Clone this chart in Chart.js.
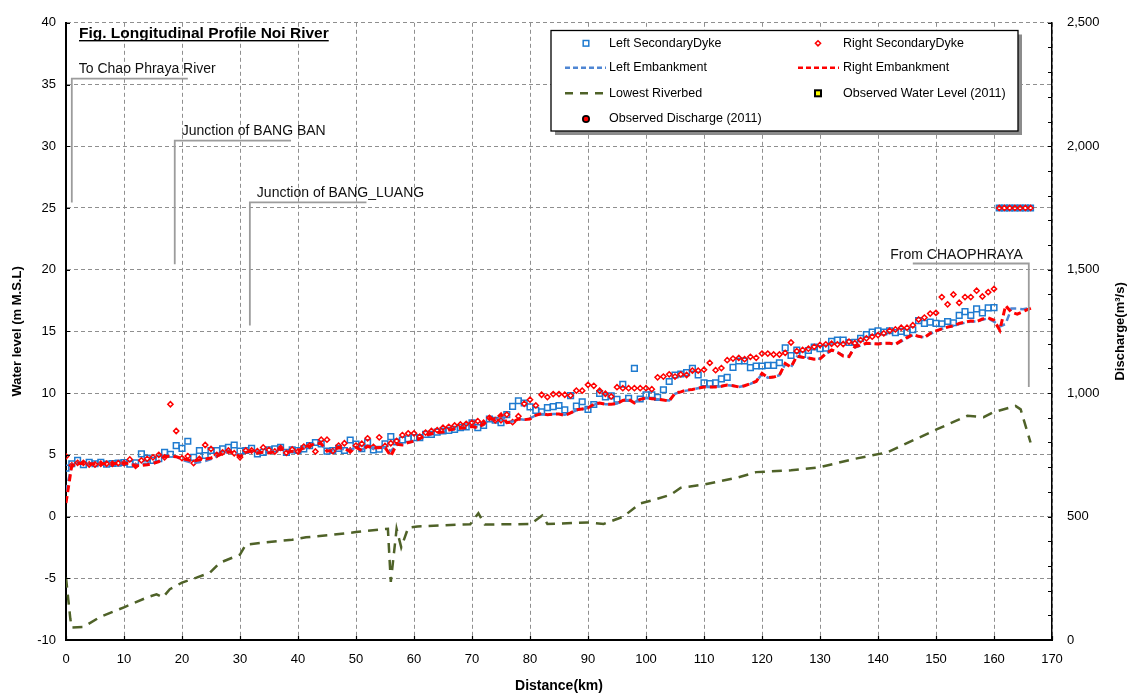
<!DOCTYPE html>
<html>
<head>
<meta charset="utf-8">
<script src="https://cdn.jsdelivr.net/npm/chart.js@4.4.1/dist/chart.umd.min.js"></script>
<style>
html,body{margin:0;padding:0;background:#fff;}
#wrap{position:relative;width:1134px;height:695px;}
</style>
</head>
<body>
<div id="wrap"><canvas id="c" width="1134" height="695"></canvas></div>
<script>
// ---------- DATA ----------
const kmDyke = [
0,1,2,3,4,5,6,7,8,9,10,11,12,13,14,15,16,17,18,19,20,21,22,23,24,25,26,27,28,29,
30,31,32,33,34,35,36,37,38,39,40,41,42,43,44,45,46,47,48,49,50,51,52,53,54,55,56,57,58,59,
60,61,62,63,64,65,66,67,68,69,70,71,72,73,74,75,76,77,78,79,80,81,82,83,84,85,86,87,88,89,
90,91,92,93,94,95,96,97,98,99,100,101,102,103,104,105,106,107,108,109,110,111,112,113,114,115,116,117,118,119,
120,121,122,123,124,125,126,127,128,129,130,131,132,133,134,135,136,137,138,139,140,141,142,143,144,145,146,147,148,149,
150,151,152,153,154,155,156,157,158,159,160,
160.9,161.8,162.7,163.6,164.5,165.4,166.3];

const leftDyke = [
3.93,4.28,4.55,4.2,4.4,4.28,4.4,4.25,4.3,4.33,4.38,4.25,4.35,5.08,4.73,4.55,4.68,5.2,5.05,5.75,
5.53,6.1,4.8,5.35,4.95,5.35,5.35,5.48,5.6,5.8,5.3,5.35,5.53,5.08,5.2,5.4,5.48,5.6,5.2,5.4,
5.35,5.48,5.75,6.0,5.88,5.3,5.35,5.53,5.35,6.2,5.88,5.5,6.0,5.4,5.45,5.9,6.47,6.04,6.2,6.3,
6.4,6.4,6.66,6.66,6.84,6.93,6.98,7.06,7.2,7.27,7.6,7.2,7.38,7.9,7.8,7.6,8.26,8.93,9.38,9.2,
8.88,8.6,8.48,8.82,8.9,9.0,8.64,9.8,8.95,9.3,8.68,9.08,9.97,9.7,9.78,9.5,10.72,9.58,12.0,9.52,
9.87,9.87,9.65,10.27,10.94,11.47,11.55,11.66,12.0,11.47,10.83,10.78,10.83,11.16,11.28,12.08,12.6,12.6,12.06,12.2,
12.2,12.25,12.25,12.46,13.66,13.05,13.48,13.13,13.45,13.74,13.6,13.65,14.2,14.3,14.3,14.1,14.12,14.44,14.75,14.95,
15.05,14.95,15.05,14.9,15.0,14.9,15.13,15.87,15.65,15.75,15.65,15.62,15.8,15.7,16.3,16.6,16.3,16.82,16.5,16.9,
16.92,
25,25,25,25,25,25,25];

const rightDyke = [
4.87,4.15,4.35,4.35,4.22,4.22,4.28,4.28,4.28,4.33,4.33,4.63,4.1,4.55,4.68,4.8,5.0,4.8,9.1,6.93,
4.73,4.9,4.33,4.68,5.8,5.48,5.0,5.2,5.35,5.13,4.8,5.35,5.35,5.3,5.6,5.4,5.27,5.56,5.16,5.43,
5.27,5.67,5.75,5.27,6.23,6.23,5.3,5.75,5.94,5.35,5.75,5.9,6.34,5.65,6.42,5.72,5.94,6.12,6.6,6.74,
6.74,6.47,6.8,6.93,7.0,7.2,7.27,7.38,7.46,7.51,7.6,7.73,7.6,8.0,7.8,7.8,8.26,7.65,8.13,9.14,
9.47,9.0,9.87,9.68,9.92,9.92,9.87,9.8,10.2,10.2,10.67,10.59,10.19,9.95,9.73,10.48,10.4,10.4,10.4,10.4,
10.4,10.32,11.28,11.34,11.52,11.34,11.52,11.47,11.82,11.82,11.9,12.45,11.86,12.03,12.67,12.8,12.85,12.75,12.94,12.86,
13.2,13.2,13.13,13.13,13.26,14.1,13.4,13.5,13.6,13.75,13.9,13.95,14.0,13.95,13.98,14.17,14.04,14.3,14.44,14.57,
14.7,14.84,15.05,15.16,15.3,15.3,15.5,15.96,16.12,16.44,16.5,17.78,17.19,17.99,17.32,17.78,17.78,18.3,17.83,18.18,
18.44,
25,25,25,25,25,25,25];

const kmEmb = [
0,1,2,3,4,5,6,7,8,9,10,11,12,13,14,15,16,17,18,19,20,21,22,23,24,25,26,27,28,29,
30,31,32,33,34,35,36,37,38,39,40,41,42,43,44,45,46,47,48,49,50,51,52,53,54,55,56,57,58,59,
60,61,62,63,64,65,66,67,68,69,70,71,72,73,74,75,76,77,78,79,80,81,82,83,84,85,86,87,88,89,
90,91,92,93,94,95,96,97,98,99,100,101,102,103,104,105,106,107,108,109,110,111,112,113,114,115,116,117,118,119,
120,121,122,123,124,125,126,127,128,129,130,131,132,133,134,135,136,137,138,139,140,141,142,143,144,145,146,147,148,149,
150,151,152,153,154,155,156,157,158,159,160,161,162,163,164,165,166.4];

const leftEmb = [
2.0,4.2,4.35,4.3,4.3,4.28,4.3,4.28,4.3,4.32,4.35,4.3,4.2,4.25,4.3,4.4,4.5,4.85,4.95,4.85,
4.6,4.45,4.35,4.4,4.5,4.65,4.9,5.1,5.25,5.2,4.95,5.2,5.3,5.15,5.2,5.2,5.3,5.55,5.25,5.3,
5.3,5.55,5.7,5.95,5.85,5.35,5.35,5.55,5.45,5.4,5.6,5.4,5.7,5.5,5.55,5.6,5.3,5.8,5.85,6.0,
6.1,6.3,6.55,6.65,6.8,6.85,7.0,7.1,7.15,7.2,7.3,7.25,7.45,7.9,7.85,8.2,7.65,7.7,7.9,7.85,
7.95,8.2,8.3,8.25,8.3,8.3,8.25,8.4,8.6,8.7,8.8,9.05,9.2,9.1,9.1,9.15,9.4,9.45,9.25,9.5,
9.6,9.55,9.5,9.45,9.4,9.95,10.1,10.2,10.3,10.4,10.5,10.5,10.5,10.55,10.65,10.6,10.5,10.6,10.75,10.95,
11.55,11.25,11.3,11.45,12.35,12.1,12.95,12.9,12.85,12.75,12.8,13.15,13.45,13.3,13.05,13.0,13.7,13.85,14.0,14.0,
14.0,14.05,14.05,13.95,14.2,14.45,14.7,14.6,14.5,14.8,15.0,15.2,15.35,15.45,15.6,15.7,15.8,15.8,15.95,16.05,
15.8,15.4,15.6,16.85,16.85,16.8,16.9];

const rightEmb = [
1.1,4.15,4.3,4.3,4.28,4.28,4.3,4.28,4.3,4.3,4.33,4.3,4.1,4.15,4.2,4.3,4.45,4.87,4.9,4.85,
4.7,4.6,4.5,4.6,4.65,4.75,4.9,5.1,5.25,5.15,4.85,5.2,5.3,5.15,5.2,5.15,5.25,5.55,5.2,5.3,
5.3,5.6,5.7,5.95,5.9,5.3,5.35,5.6,5.5,5.3,5.6,5.35,5.7,5.55,5.6,5.6,4.9,5.85,5.8,6.0,
6.1,6.3,6.6,6.7,6.8,6.85,7.0,7.1,7.15,7.2,7.3,7.2,7.5,7.95,7.85,8.3,7.6,7.65,7.9,7.85,
7.9,8.2,8.35,8.25,8.3,8.3,8.2,8.4,8.65,8.72,8.8,9.1,9.2,9.1,9.1,9.15,9.4,9.5,9.2,9.5,
9.6,9.55,9.5,9.45,9.35,10.0,10.1,10.25,10.3,10.4,10.5,10.5,10.5,10.55,10.65,10.6,10.5,10.6,10.77,10.95,
11.6,11.25,11.3,11.45,12.4,12.1,13.0,12.9,12.85,12.75,12.78,13.2,13.5,13.3,13.0,12.95,13.75,13.9,14.04,14.0,
13.98,14.04,14.04,13.95,14.25,14.5,14.75,14.6,14.5,14.84,15.05,15.2,15.35,15.45,15.65,15.75,15.85,15.8,16.0,16.1,
15.9,15.1,17.1,16.55,16.4,16.6,16.9];

const bedKm = [0,0.75,1,3,5.8,10,14,15.6,16.7,17.9,20,22.5,24.8,26.5,30,31,34.5,39,41.4,46,50,54,55.5,56,57,57.8,59,60.6,
69.7,71.1,72.2,80.1,82.1,83,89.9,92.7,96.1,99,101,104.2,106,110,115.7,119,125,130,136,141.6,150.2,155.4,158.2,159.9,163.7,164.6,166.3];
const bedLevel = [-4.95,-8.3,-9.0,-8.95,-8.15,-7.35,-6.55,-6.3,-6.55,-5.88,-5.35,-4.95,-4.55,-3.75,-3.08,-2.27,-2.09,-1.87,-1.68,-1.47,-1.26,-1.05,-1.0,-5.3,-1.0,-2.5,-0.9,-0.8,
-0.62,0.27,-0.65,-0.6,0.08,-0.6,-0.48,-0.6,0.0,1.07,1.3,1.76,2.33,2.6,3.15,3.6,3.75,4.0,4.68,5.2,7.08,8.16,8.05,8.45,8.96,8.68,6.0];

const obsWaterLevel = [];   // Observed Water Level (2011) - no points in figure
const obsDischarge = [];    // Observed Discharge (2011) - no points in figure

const xTicks = [0,10,20,30,40,50,60,70,80,90,100,110,120,130,140,150,160,170];
const yTicks = [-10,-5,0,5,10,15,20,25,30,35,40];
const y1Ticks = [0,500,1000,1500,2000,2500];

const guideLabels = ['To Chao Phraya River','Junction of BANG BAN','Junction of BANG_LUANG','From CHAOPHRAYA'];
const guideKm     = [1.0, 18.75, 31.7, 166.0];
const guideTop    = [35.47, 30.45, 25.45, 20.5];
const guideBottom = [25.45, 20.45, 15.48, 10.5];
const guideEndKm  = [21.0, 38.8, 51.8, 146.0];

const legendLabels = ['Left SecondaryDyke','Right SecondaryDyke','Left Embankment','Right Embankment','Lowest Riverbed','Observed Water Level (2011)','Observed Discharge (2011)'];

// ---------- STYLE ----------
const C_BLUE_PT = '#1f7bd0';
const C_BLUE_LN = '#4f86d3';
const C_RED = '#ff0000';
const C_BED = '#4f6228';
const FONT = '"Liberation Sans", Arial, sans-serif';

const pts = (xs, ys) => xs.map((x, i) => ({x: x, y: ys[i]}));

const datasets = [
  {label: legendLabels[3], data: pts(kmEmb, rightEmb), showLine: true, borderColor: C_RED, borderWidth: 3, borderDash: [7,4], pointRadius: 0, order: 1, tension: 0},
  {label: legendLabels[2], data: pts(kmEmb, leftEmb), showLine: true, borderColor: C_BLUE_LN, borderWidth: 2.5, borderDash: [7,4], pointRadius: 0, order: 2, tension: 0},
  {label: legendLabels[4], data: pts(bedKm, bedLevel), showLine: true, borderColor: C_BED, borderWidth: 2.5, borderDash: [10,7], pointRadius: 0, order: 3, tension: 0},
  {label: legendLabels[1], data: pts(kmDyke, rightDyke), showLine: false, pointStyle: 'rectRot', pointRadius: 2.6, borderColor: C_RED, backgroundColor: 'rgba(255,255,255,0)', pointBorderWidth: 1.5, order: 4},
  {label: legendLabels[0], data: pts(kmDyke, leftDyke), showLine: false, pointStyle: 'rect', pointRadius: 4, borderColor: C_BLUE_PT, backgroundColor: 'rgba(255,255,255,0)', pointBorderWidth: 1.5, order: 5},
  {label: legendLabels[5], data: obsWaterLevel, showLine: false, pointStyle: 'rect', pointRadius: 5, borderColor: '#000', backgroundColor: '#ffff00', order: 6},
  {label: legendLabels[6], data: obsDischarge, yAxisID: 'y1', showLine: false, pointStyle: 'circle', pointRadius: 4, borderColor: '#000', backgroundColor: '#ff0000', order: 7}
];

// ---------- PLUGINS ----------
const decorPlugin = {
  id: 'decor',
  afterDatasetsDraw(chart) {
    const ctx = chart.ctx, xs = chart.scales.x, ys = chart.scales.y, y1 = chart.scales.y1;
    const a = chart.chartArea;
    ctx.save();
    ctx.strokeStyle = '#000'; ctx.lineWidth = 1.2;
    ctx.beginPath();
    xTicks.forEach(v => { const px = Math.round(xs.getPixelForValue(v)) + 0.5; ctx.moveTo(px, a.bottom); ctx.lineTo(px, a.bottom - 4); });
    yTicks.forEach(v => { const py = Math.round(ys.getPixelForValue(v)) + 0.5; ctx.moveTo(a.left, py); ctx.lineTo(a.left + 4, py); });
    for (let v = 0; v <= 2500; v += 100) { const py = Math.round(y1.getPixelForValue(v)) + 0.5; ctx.moveTo(a.right, py); ctx.lineTo(a.right - 4, py); }
    ctx.stroke();
    ctx.restore();
  },
  afterDraw(chart) {
    const ctx = chart.ctx, xs = chart.scales.x, ys = chart.scales.y;
    const a = chart.chartArea;
    ctx.save();
    // guide lines and labels
    ctx.strokeStyle = '#9c9c9c'; ctx.lineWidth = 1.8;
    ctx.font = '14px ' + FONT; ctx.fillStyle = '#111'; ctx.textBaseline = 'alphabetic';
    guideLabels.forEach((lab, i) => {
      const vx = xs.getPixelForValue(guideKm[i]);
      const ex = xs.getPixelForValue(guideEndKm[i]);
      const ty = ys.getPixelForValue(guideTop[i]);
      const by = ys.getPixelForValue(guideBottom[i]);
      ctx.beginPath(); ctx.moveTo(ex, ty); ctx.lineTo(vx, ty); ctx.lineTo(vx, by); ctx.stroke();
      if (ex > vx) { ctx.textAlign = 'left'; ctx.fillText(lab, vx + 7, ty - 5.5); }
      else { ctx.textAlign = 'right'; ctx.fillText(lab, vx - 6, ty - 5); }
    });
    // title
    ctx.textAlign = 'left';
    ctx.font = 'bold 15.5px ' + FONT;
    const title = 'Fig. Longitudinal Profile Noi River';
    ctx.fillStyle = '#000';
    ctx.fillText(title, 79, 38.3);
    const tw = ctx.measureText(title).width;
    ctx.fillRect(79, 40, tw, 1.4);

    // axis titles
    ctx.font = 'bold 14px ' + FONT; ctx.textAlign = 'center'; ctx.textBaseline = 'middle';
    ctx.fillText('Distance(km)', (a.left + a.right) / 2, 686);
    ctx.font = 'bold 13px ' + FONT;
    ctx.save(); ctx.translate(17, (a.top + a.bottom) / 2); ctx.rotate(-Math.PI / 2);
    ctx.fillText('Water level (m M.S.L)', 0, 0); ctx.restore();
    ctx.save(); ctx.translate(1120, (a.top + a.bottom) / 2); ctx.rotate(-Math.PI / 2);
    ctx.fillText('Discharge(m\u00B3/s)', 0, 0); ctx.restore();

    // legend box
    const L = 551, T = 30.5, R = 1018, B = 131;
    ctx.fillStyle = '#8c8c8c'; ctx.fillRect(L + 4, T + 4, R - L, B - T);
    ctx.fillStyle = '#fff'; ctx.fillRect(L, T, R - L, B - T);
    ctx.strokeStyle = '#000'; ctx.lineWidth = 1.3; ctx.strokeRect(L, T, R - L, B - T);
    const c1s = 586, c1l0 = 565, c1l1 = 606, c1t = 609;
    const c2s = 818, c2l0 = 798, c2l1 = 839, c2t = 843;
    const rows = [43.3, 67.7, 93.3, 119];
    ctx.font = '12.5px ' + FONT; ctx.textAlign = 'left'; ctx.textBaseline = 'middle';
    const txt = (s, x, y) => { ctx.fillStyle = '#000'; ctx.fillText(s, x, y); };
    // Left SecondaryDyke
    ctx.strokeStyle = C_BLUE_PT; ctx.lineWidth = 1.5; ctx.strokeRect(c1s - 2.8, rows[0] - 2.8, 5.6, 5.6);
    txt(legendLabels[0], c1t, rows[0]);
    // Right SecondaryDyke
    ctx.strokeStyle = C_RED; ctx.beginPath(); ctx.moveTo(c2s, rows[0] - 2.6); ctx.lineTo(c2s + 2.6, rows[0]); ctx.lineTo(c2s, rows[0] + 2.6); ctx.lineTo(c2s - 2.6, rows[0]); ctx.closePath(); ctx.stroke();
    txt(legendLabels[1], c2t, rows[0]);
    // Left Embankment
    ctx.setLineDash([5, 3]); ctx.strokeStyle = C_BLUE_LN; ctx.lineWidth = 2.5;
    ctx.beginPath(); ctx.moveTo(c1l0, rows[1]); ctx.lineTo(c1l1, rows[1]); ctx.stroke();
    // Right Embankment
    ctx.strokeStyle = C_RED; ctx.lineWidth = 2.5;
    ctx.beginPath(); ctx.moveTo(c2l0, rows[1]); ctx.lineTo(c2l1, rows[1]); ctx.stroke();
    // Lowest Riverbed
    ctx.setLineDash([8, 7]); ctx.strokeStyle = C_BED; ctx.lineWidth = 2.5;
    ctx.beginPath(); ctx.moveTo(c1l0, rows[2]); ctx.lineTo(c1l1, rows[2]); ctx.stroke();
    ctx.setLineDash([]);
    txt(legendLabels[2], c1t, rows[1]);
    txt(legendLabels[3], c2t, rows[1]);
    txt(legendLabels[4], c1t, rows[2]);
    // Observed water level
    ctx.fillStyle = '#000'; ctx.fillRect(c2s - 4, rows[2] - 4, 8, 8);
    ctx.fillStyle = '#ffff00'; ctx.fillRect(c2s - 2, rows[2] - 2, 4, 4);
    txt(legendLabels[5], c2t, rows[2]);
    // Observed discharge
    ctx.fillStyle = '#000'; ctx.beginPath(); ctx.arc(c1s, rows[3], 4, 0, Math.PI * 2); ctx.fill();
    ctx.fillStyle = '#ff0000'; ctx.beginPath(); ctx.arc(c1s, rows[3], 2.3, 0, Math.PI * 2); ctx.fill();
    txt(legendLabels[6], c1t, rows[3]);
    ctx.restore();
  }
};

// ---------- CHART ----------
const gridCol = '#8f8f8f';
new Chart(document.getElementById('c'), {
  type: 'scatter',
  data: {datasets: datasets},
  options: {
    responsive: false,
    animation: false,
    layout: {padding: {top: 16, left: 0, right: 0, bottom: 0}},
    plugins: {legend: {display: false}, tooltip: {enabled: false}},
    scales: {
      x: {
        type: 'linear', position: 'bottom', min: 0, max: 170,
        afterBuildTicks: s => { s.ticks = xTicks.map(v => ({value: v})); },
        ticks: {font: {family: FONT, size: 13}, color: '#000', padding: 12, maxRotation: 0, autoSkip: false},
        grid: {color: gridCol, lineWidth: 1, drawTicks: false},
        border: {display: true, color: '#000', width: 2, dash: [4, 3]},
        afterFit: s => { s.height = 55; }
      },
      y: {
        type: 'linear', position: 'left', min: -10, max: 40,
        afterBuildTicks: s => { s.ticks = yTicks.map(v => ({value: v})); },
        ticks: {font: {family: FONT, size: 13}, color: '#000', padding: 10},
        grid: {color: gridCol, lineWidth: 1, drawTicks: false},
        border: {display: true, color: '#000', width: 2, dash: [4, 3]},
        afterFit: s => { s.width = 66; }
      },
      y1: {
        type: 'linear', position: 'right', min: 0, max: 2500,
        afterBuildTicks: s => { s.ticks = y1Ticks.map(v => ({value: v})); },
        ticks: {font: {family: FONT, size: 13}, color: '#000', padding: 15,
          callback: v => v.toLocaleString('en-US')},
        grid: {display: true, drawOnChartArea: false, drawTicks: false},
        border: {display: true, color: '#000', width: 1.5},
        afterFit: s => { s.width = 82; }
      }
    }
  },
  plugins: [decorPlugin]
});
</script>
</body>
</html>
